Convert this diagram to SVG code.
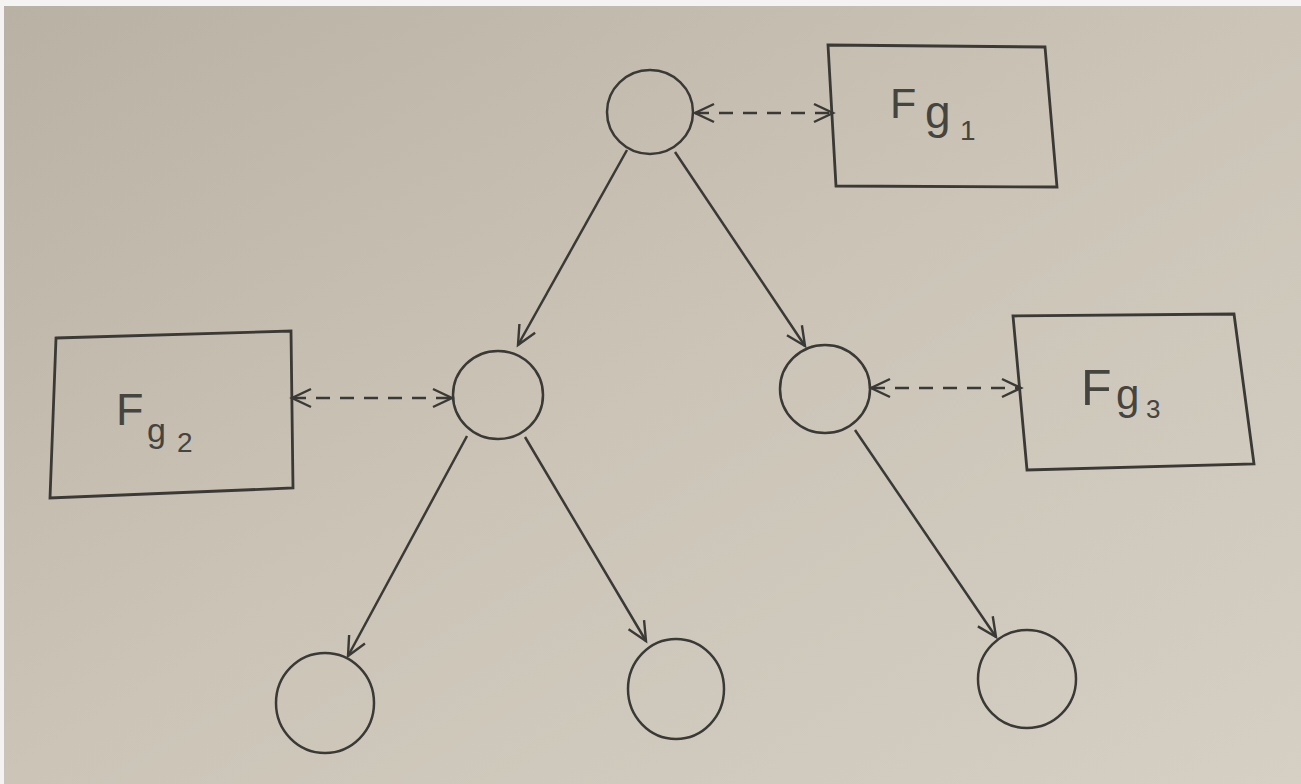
<svg xmlns="http://www.w3.org/2000/svg" width="1301" height="784" viewBox="0 0 1301 784">
<defs>
<linearGradient id="bg" x1="0" y1="0" x2="1" y2="1">
<stop offset="0" stop-color="#b9b1a4"/>
<stop offset="0.5" stop-color="#cbc4b7"/>
<stop offset="1" stop-color="#d5cfc4"/>
</linearGradient>
<marker id="arr" viewBox="0 0 24 24" refX="21" refY="12" markerWidth="24" markerHeight="24" markerUnits="userSpaceOnUse" orient="auto-start-reverse">
<path d="M2,3 L21,12 L2,21" fill="none" stroke="#3a3935" stroke-width="2.4"/>
</marker>
<style>
.ln{fill:none;stroke:#3a3935;stroke-width:2.5}
.dash{fill:none;stroke:#3a3935;stroke-width:2.5;stroke-dasharray:14 10}
.box{fill:none;stroke:#3a3935;stroke-width:2.8}
.lbl{font-family:"Liberation Sans",Arial,sans-serif;fill:#46443f}
</style>
</defs>
<rect x="0" y="0" width="1301" height="784" fill="#f4f3f1"/>
<rect x="4" y="6" width="1297" height="778" fill="url(#bg)"/>
<g id="connectors">
<line class="ln" x1="627" y1="150" x2="518" y2="345" marker-end="url(#arr)"/>
<line class="ln" x1="675" y1="152" x2="805" y2="346" marker-end="url(#arr)"/>
<line class="ln" x1="467" y1="436" x2="348" y2="656" marker-end="url(#arr)"/>
<line class="ln" x1="525" y1="437" x2="646" y2="641" marker-end="url(#arr)"/>
<line class="ln" x1="855" y1="430" x2="996" y2="637" marker-end="url(#arr)"/>
<line class="dash" x1="695" y1="113" x2="833" y2="113" marker-start="url(#arr)" marker-end="url(#arr)"/>
<line class="dash" x1="292" y1="398" x2="452" y2="398" marker-start="url(#arr)" marker-end="url(#arr)"/>
<line class="dash" x1="871" y1="388" x2="1021" y2="388" marker-start="url(#arr)" marker-end="url(#arr)"/>
</g>
<g id="n-root"><ellipse class="ln" cx="650" cy="112" rx="43" ry="42"/></g>
<g id="n-left"><ellipse class="ln" cx="498" cy="395" rx="45" ry="44"/></g>
<g id="n-right"><ellipse class="ln" cx="825" cy="389" rx="45" ry="44"/></g>
<g id="n-ll"><ellipse class="ln" cx="325" cy="703" rx="49" ry="50"/></g>
<g id="n-lr"><ellipse class="ln" cx="676" cy="689" rx="48" ry="50"/></g>
<g id="n-rr"><ellipse class="ln" cx="1027" cy="679" rx="49" ry="49"/></g>
<g id="fg1">
<polygon class="box" points="828,45 1045,47 1057,187 836,186"/>
<text class="lbl" x="890" y="118" font-size="43">F<tspan x="925" y="128" font-size="46">g</tspan><tspan x="960" y="140" font-size="28">1</tspan></text>
</g>
<g id="fg2">
<polygon class="box" points="56,338 291,331 293,488 50,498"/>
<text class="lbl" x="116" y="425" font-size="45">F<tspan x="147" y="442" font-size="34">g</tspan><tspan x="177" y="452" font-size="28">2</tspan></text>
</g>
<g id="fg3">
<polygon class="box" points="1013,316 1234,314 1254,464 1027,470"/>
<text class="lbl" x="1081" y="405" font-size="50">F<tspan x="1116" y="409" font-size="42">g</tspan><tspan x="1146" y="418" font-size="26">3</tspan></text>
</g>
</svg>
